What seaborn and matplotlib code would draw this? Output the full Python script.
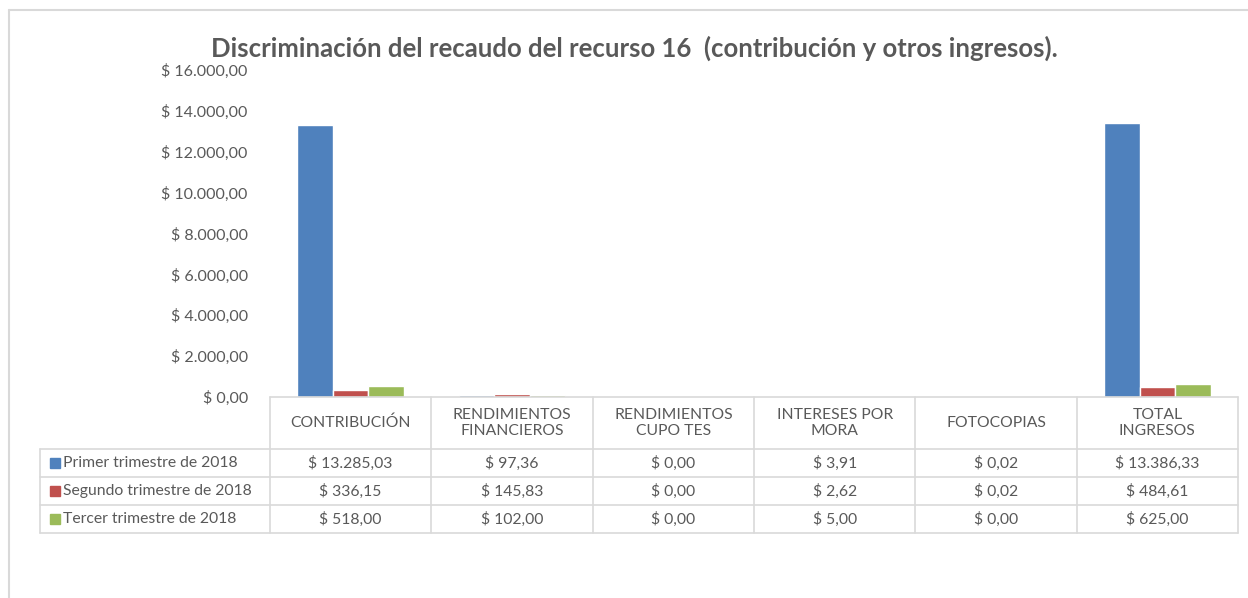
import matplotlib
matplotlib.use("Agg")
import matplotlib.pyplot as plt
import matplotlib.transforms as mtransforms
from matplotlib.patches import Rectangle
import numpy as np
import pandas as pd
import seaborn as sns

# datos del grafico
categorias = ['CONTRIBUCIÓN', 'RENDIMIENTOS\nFINANCIEROS', 'RENDIMIENTOS\nCUPO TES',
              'INTERESES POR\nMORA', 'FOTOCOPIAS', 'TOTAL\nINGRESOS']
series = ['Primer trimestre de 2018', 'Segundo trimestre de 2018', 'Tercer trimestre de 2018']
primer = [13285.03, 97.36, 0.00, 3.91, 0.02, 13386.33]
segundo = [336.15, 145.83, 0.00, 2.62, 0.02, 484.61]
tercer = [518.00, 102.00, 0.00, 5.00, 0.00, 625.00]
colores = ['#4F81BD', '#C0504D', '#9BBB59']
titulo = 'Discriminación del recaudo del recurso 16  (contribución y otros ingresos).'


def pesos(v):
    s = '{:,.2f}'.format(v).replace(',', 'X').replace('.', ',').replace('X', '.')
    return '$ ' + s


valores = [primer, segundo, tercer]
df = pd.DataFrame({
    'categoria': categorias * 3,
    'serie': [s for s in series for _ in categorias],
    'valor': primer + segundo + tercer,
})

sns.set_style('white')
plt.rcParams['font.family'] = ['Lato', 'DejaVu Sans']
gris = '#595959'
linea = '#D9D9D9'

fig = plt.figure(figsize=(12.48, 5.98), dpi=100)
W, H = 968, 327
ax = fig.add_axes([270 / 1248, 201 / 598, W / 1248, H / 598])

sns.barplot(data=df, x='categoria', y='valor', hue='serie', palette=colores,
            width=0.66, gap=0, saturation=1, ax=ax, legend=False)

ax.set_xlim(-0.5, len(categorias) - 0.5)
ax.set_ylim(0, 16000)
ax.set_yticks(np.arange(0, 16001, 2000))
ax.set_yticklabels([pesos(v) for v in np.arange(0, 16001, 2000)], color=gris, fontsize=11.5)
ax.set_xticks([])
ax.set_xlabel('')
ax.set_ylabel('')
ax.tick_params(axis='y', length=0, pad=16)
for sp in ax.spines.values():
    sp.set_visible(False)

# tabla de datos
tr = mtransforms.blended_transform_factory(ax.transData, ax.transAxes)
tra = ax.transAxes


def ya(py):
    return (397 - py) / H


x_izq = (40 - 270) / W
y_top = ya(397)
y_head = ya(449)
filas = [ya(449), ya(477), ya(505), ya(533)]
n = len(categorias)
fs = 11.3

kw = dict(color=linea, lw=1.2, clip_on=False)
# lineas horizontales
ax.plot([-0.5, n - 0.5], [y_top, y_top], transform=tr, **kw)
for yy in filas:
    ax.plot([x_izq, 1], [yy, yy], transform=tra, **kw)
# lineas verticales
for i in range(n + 1):
    ax.plot([i - 0.5, i - 0.5], [y_top, filas[-1]], transform=tr, **kw)
ax.plot([x_izq, x_izq], [filas[0], filas[-1]], transform=tra, **kw)

for i, c in enumerate(categorias):
    ax.text(i, (y_top + y_head) / 2, c, transform=tr, ha='center', va='center',
            fontsize=fs, color=gris, linespacing=1.25)

for j, (s, vals) in enumerate(zip(series, valores)):
    yc = (filas[j] + filas[j + 1]) / 2
    ax.add_patch(Rectangle((x_izq + 10 / W, yc - 5 / H), 10 / W, 10 / H, transform=tra,
                           color=colores[j], clip_on=False))
    ax.text(x_izq + 23 / W, yc, s, transform=tra, ha='left', va='center',
            fontsize=fs, color=gris)
    for i, v in enumerate(vals):
        ax.text(i, yc, pesos(v), transform=tr, ha='center', va='center',
                fontsize=fs, color=gris)

fig.text(634 / 1248, 1 - 48 / 598, titulo, ha='center', va='center',
         fontsize=18.5, fontweight='bold', color=gris)

# borde del area del grafico
fig.add_artist(plt.Line2D([9 / 1248, 9 / 1248], [0, 1 - 10 / 598], color=linea, lw=1.5,
                          transform=fig.transFigure))
fig.add_artist(plt.Line2D([9 / 1248, 1], [1 - 10 / 598, 1 - 10 / 598], color=linea, lw=1.5,
                          transform=fig.transFigure))

fig.savefig('out.png', dpi=100)
